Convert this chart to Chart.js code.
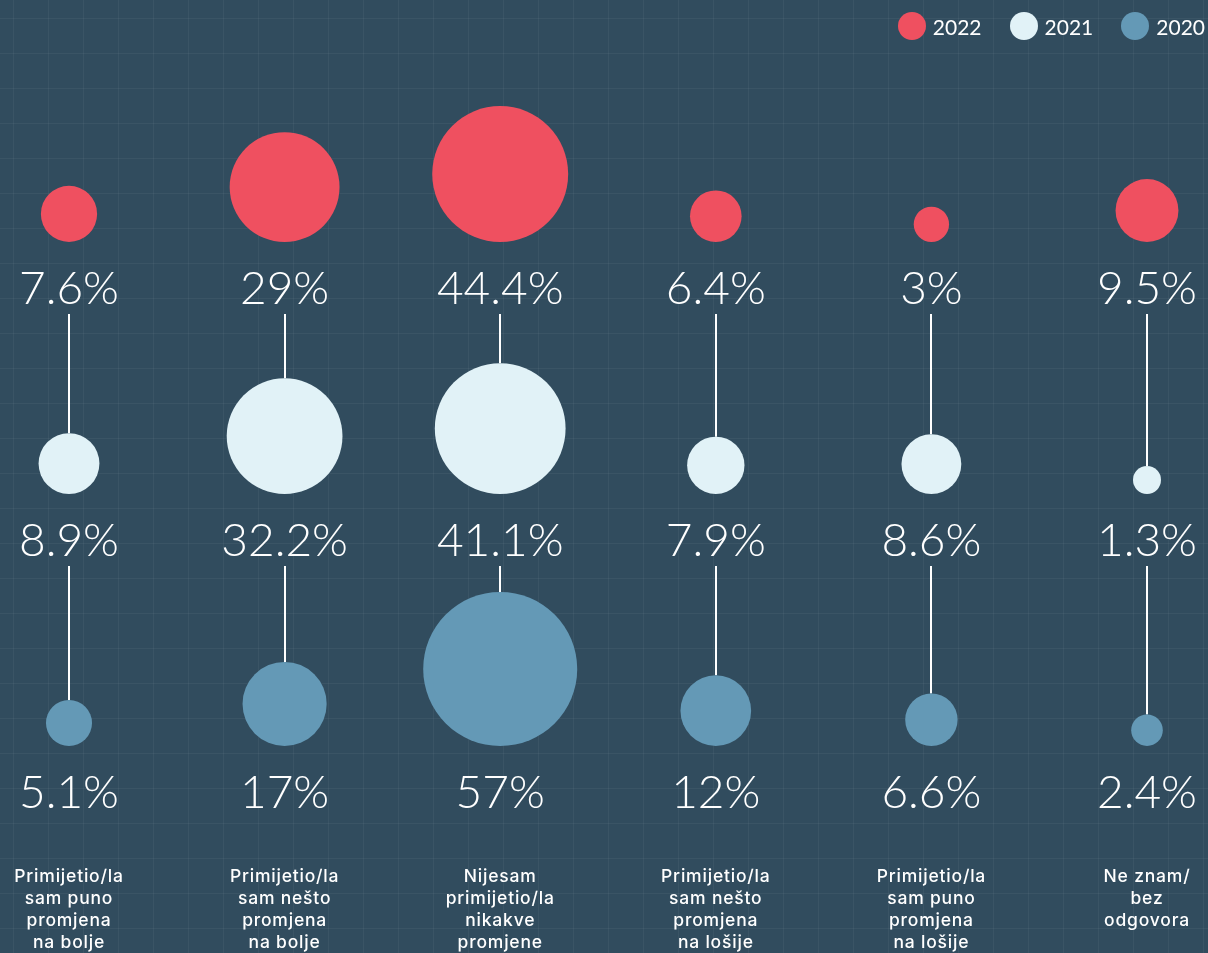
<!DOCTYPE html>
<html>
<head>
<meta charset="utf-8">
<script src="https://cdn.jsdelivr.net/npm/chart.js@4.4.1/dist/chart.umd.min.js"></script>
<style>
  html, body { margin: 0; padding: 0; }
  body {
    width: 1208px;
    height: 953px;
    overflow: hidden;
    position: relative;
    background-color: #314c5e;
    background-image:
      linear-gradient(to right, rgba(255, 255, 255, 0.045) 1px, transparent 1px),
      linear-gradient(to bottom, rgba(255, 255, 255, 0.045) 1px, transparent 1px);
    background-size: 35px 35px;
    background-position: 13px 18px;
  }
  .chart-wrap { position: absolute; left: 0; top: 0; width: 1208px; height: 953px; }
  #legend {
    position: absolute;
    top: 12px;
    right: 3px;
    display: flex;
    align-items: center;
    font-family: Lato, sans-serif;
    font-size: 21px;
    color: #fff;
  }
  #legend .item { display: flex; align-items: center; margin-left: 28px; }
  #legend .item:first-child { margin-left: 0; }
  #legend .dot { width: 28px; height: 28px; border-radius: 50%; margin-right: 7px; }
</style>
</head>
<body>
<div class="chart-wrap"><canvas id="bubbleChart"></canvas></div>
<div id="legend"></div>
<script>
const CATEGORIES = [
  ["Primijetio/la", "sam puno", "promjena", "na bolje"],
  ["Primijetio/la", "sam nešto", "promjena", "na bolje"],
  ["Nijesam", "primijetio/la", "nikakve", "promjene"],
  ["Primijetio/la", "sam nešto", "promjena", "na lošije"],
  ["Primijetio/la", "sam puno", "promjena", "na lošije"],
  ["Ne znam/", "bez", "odgovora"],
];
const YEARS = ["2022", "2021", "2020"];
const VALUES_2022 = [7.6, 29, 44.4, 6.4, 3, 9.5];
const VALUES_2021 = [8.9, 32.2, 41.1, 7.9, 8.6, 1.3];
const VALUES_2020 = [5.1, 17, 57, 12, 6.6, 2.4];

const COLORS = ["#ef5060", "#e1f2f7", "#6499b6"];

// layout (y scale works in canvas pixels, x scale in category index)
const W = 1208;
const H = 953;
const ROW_BASE = 242;
const ROW_GAP = 252;
const COL_FIRST = 69;
const COL_STEP = 215.6;

function radiusFor(v) {
  return Math.max(14, 10.2 * Math.sqrt(v));
}

function rowBase(row) {
  return ROW_BASE + row * ROW_GAP;
}

const datasets = [VALUES_2022, VALUES_2021, VALUES_2020].map((vals, row) => ({
  label: YEARS[row],
  data: vals.map((v, i) => ({ x: i, y: rowBase(row) - radiusFor(v), r: radiusFor(v), v })),
  backgroundColor: COLORS[row],
  hoverBackgroundColor: COLORS[row],
  borderWidth: 0,
  hoverBorderWidth: 0,
  hoverRadius: 0,
}));

const labelsPlugin = {
  id: "bubbleLabels",
  beforeDatasetsDraw(chart) {
    const { ctx, scales } = chart;
    ctx.save();
    ctx.strokeStyle = "#ffffff";
    ctx.lineWidth = 2;
    CATEGORIES.forEach((_, i) => {
      const px = Math.round(scales.x.getPixelForValue(i));
      for (let row = 0; row < 2; row++) {
        const from = scales.y.getPixelForValue(rowBase(row) + 72);
        const next = chart.getDatasetMeta(row + 1).data[i];
        const to = next.y - next.options.radius;
        ctx.beginPath();
        ctx.moveTo(px, from);
        ctx.lineTo(px, to);
        ctx.stroke();
      }
    });
    ctx.restore();
  },
  afterDatasetsDraw(chart) {
    const { ctx, scales } = chart;
    ctx.save();
    ctx.fillStyle = "#ffffff";
    ctx.textAlign = "center";
    ctx.textBaseline = "alphabetic";
    ctx.font = "300 46px Lato";
    chart.data.datasets.forEach((ds, row) => {
      ds.data.forEach((d) => {
        const px = scales.x.getPixelForValue(d.x);
        const py = scales.y.getPixelForValue(rowBase(row) + 62);
        ctx.fillText(`${d.v}%`, px, py);
      });
    });
    ctx.font = "500 17.5px Inter";
    ctx.letterSpacing = "0.8px";
    CATEGORIES.forEach((lines, i) => {
      const px = scales.x.getPixelForValue(i);
      lines.forEach((line, k) => {
        ctx.fillText(line, px, scales.y.getPixelForValue(882 + k * 22));
      });
    });
    ctx.restore();
  },
};

const chart = new Chart(document.getElementById("bubbleChart"), {
  type: "bubble",
  data: { datasets },
  options: {
    responsive: true,
    maintainAspectRatio: false,
    animation: false,
    layout: { padding: 0, autoPadding: false },
    plugins: {
      legend: { display: false },
      tooltip: { enabled: false },
    },
    scales: {
      x: {
        type: "linear",
        display: false,
        min: -COL_FIRST / COL_STEP,
        max: (W - COL_FIRST) / COL_STEP,
      },
      y: {
        type: "linear",
        display: false,
        reverse: true,
        min: 0,
        max: H,
      },
    },
  },
  plugins: [labelsPlugin],
});

// html legend from the datasets
const legendEl = document.getElementById("legend");
chart.data.datasets.forEach((ds) => {
  const item = document.createElement("div");
  item.className = "item";
  item.innerHTML = `<span class="dot" style="background:${ds.backgroundColor}"></span><span>${ds.label}</span>`;
  legendEl.appendChild(item);
});
</script>
</body>
</html>
